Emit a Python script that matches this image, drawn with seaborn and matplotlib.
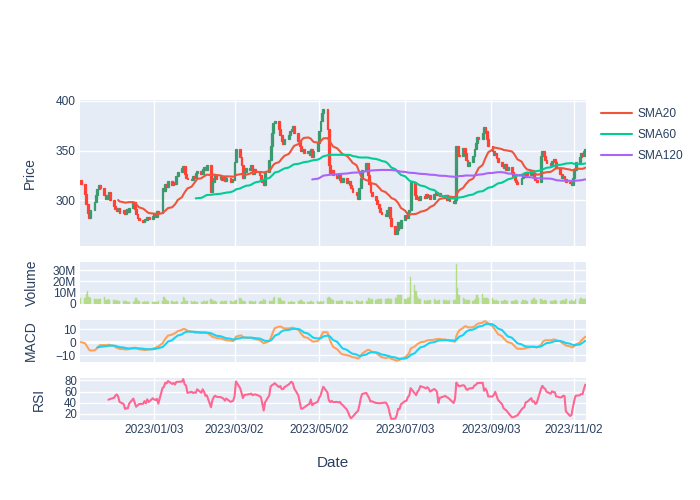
import numpy as np
import pandas as pd
import matplotlib
matplotlib.use("Agg")
import matplotlib.pyplot as plt
import seaborn as sns

# ------- Data -------
# daily closes, one row per week; first row is Fri 2022-11-11
first_open = 320
close_weeks = [
    [316],
    [306, 296, 287, 282, 290],
    [298, 305, 311, 315, 312],
    [305, 301, 304, 308, 300],
    [294, 291, 289, 292, 287],
    [290, 286, 291, 288, 292],
    [298, 291, 286, 282, 280],
    [278, 281, 280, 283, 281],
    [284, 287, 283, 289, 287],
    [312, 309, 316, 313, 319],
    [315, 318, 316, 324, 328],
    [332, 334, 326, 322, 321],
    [320, 324, 322, 327, 329],
    [326, 331, 333, 330, 335],
    [308, 318, 322, 325, 321],
    [324, 320, 323, 319, 322],
    [318, 321, 320, 338, 352],
    [343, 335, 322, 328, 332],
    [330, 335, 326, 331, 328],
    [325, 320, 318, 315, 328],
    [340, 355, 368, 378, 380],
    [372, 366, 360, 357, 362],
    [366, 370, 372, 375, 368],
    [360, 355, 350, 352, 348],
    [350, 346, 352, 343, 350],
    [358, 370, 380, 388, 392],
    [372, 335, 327, 330, 325],
    [322, 326, 320, 318, 322],
    [317, 319, 315, 312, 308],
    [305, 301, 312, 322, 330],
    [337, 325, 316, 308, 304],
    [300, 296, 292, 288, 286],
    [284, 290, 293, 282, 274],
    [266, 270, 278, 272, 280],
    [285, 282, 288, 290, 318],
    [305, 301, 303, 300, 304],
    [302, 306, 303, 305, 301],
    [306, 308, 305, 307, 304],
    [302, 305, 300, 303, 299],
    [297, 300, 355, 346, 344],
    [353, 348, 340, 334, 338],
    [345, 352, 358, 364, 362],
    [368, 374, 370, 362, 355],
    [350, 346, 348, 342, 338],
    [334, 332, 336, 330, 333],
    [328, 324, 320, 318, 316],
    [322, 326, 323, 328, 325],
    [330, 327, 322, 320, 318],
    [345, 350, 344, 340, 337],
    [335, 339, 341, 338, 332],
    [326, 322, 324, 321, 318],
    [317, 315, 322, 330, 338],
    [343, 348, 345, 350, 352],
]

# daily volume in millions, same layout
volume_weeks = [
    [4.8],
    [5.4, 8.6, 11.0, 6.0, 5.0],
    [4.5, 4.0, 3.8, 4.6, 3.9],
    [6.3, 3.2, 3.5, 4.0, 3.1],
    [3.0, 2.8, 3.3, 2.6, 2.4],
    [2.5, 2.6, 2.2, 1.8, 1.5],
    [1.4, 2.5, 5.4, 3.0, 2.2],
    [2.0, 2.4, 1.9, 2.1, 1.8],
    [1.7, 2.0, 1.8, 1.6, 2.2],
    [2.6, 5.7, 4.5, 3.0, 2.5],
    [2.2, 1.5, 2.0, 2.4, 1.8],
    [2.0, 5.7, 5.0, 2.6, 2.1],
    [2.4, 1.9, 2.2, 2.0, 1.7],
    [1.8, 2.0, 2.6, 1.9, 2.1],
    [4.2, 3.0, 2.4, 2.2, 1.9],
    [2.0, 2.3, 1.8, 2.1, 2.4],
    [2.2, 2.5, 1.9, 2.8, 3.2],
    [5.4, 4.0, 2.7, 2.2, 2.0],
    [2.3, 1.8, 2.1, 1.9, 2.2],
    [2.0, 2.4, 2.8, 4.2, 3.0],
    [2.5, 2.2, 2.6, 5.4, 6.0],
    [5.0, 5.6, 3.8, 2.6, 2.1],
    [2.0, 1.8, 2.2, 1.6, 1.9],
    [2.1, 2.5, 3.8, 2.2, 1.8],
    [1.6, 1.9, 2.1, 1.7, 2.0],
    [2.4, 1.8, 2.6, 2.0, 2.2],
    [5.0, 6.0, 5.6, 4.6, 3.2],
    [2.4, 2.8, 2.2, 3.0, 2.5],
    [2.1, 1.8, 2.3, 1.9, 2.0],
    [3.5, 2.2, 1.8, 2.0, 2.4],
    [2.2, 2.6, 5.0, 3.0, 4.2],
    [3.6, 4.4, 4.0, 4.6, 4.2],
    [4.5, 4.0, 4.8, 4.3, 4.6],
    [4.9, 5.2, 7.8, 8.2, 7.5],
    [4.0, 3.5, 5.0, 6.0, 24.0],
    [17.0, 11.0, 6.0, 4.5, 4.0],
    [3.2, 2.8, 3.5, 2.6, 3.0],
    [4.6, 3.8, 2.9, 3.4, 3.1],
    [3.5, 2.8, 3.3, 2.9, 3.2],
    [3.0, 3.4, 35.5, 14.0, 8.0],
    [5.0, 4.2, 3.3, 3.0, 3.1],
    [2.6, 3.0, 4.0, 7.5, 5.2],
    [8.7, 5.6, 5.0, 5.4, 4.6],
    [4.8, 3.6, 2.8, 3.2, 2.5],
    [2.7, 2.2, 3.0, 2.4, 2.9],
    [2.3, 2.6, 2.1, 3.0, 2.5],
    [2.0, 3.1, 2.7, 3.4, 2.6],
    [3.0, 3.6, 5.5, 3.8, 3.2],
    [4.2, 3.0, 2.6, 3.3, 2.4],
    [2.2, 2.8, 2.5, 3.1, 2.3],
    [2.6, 2.9, 3.3, 2.5, 4.5],
    [2.7, 3.2, 2.6, 2.4, 4.5],
    [3.6, 4.8, 4.2, 4.6, 3.9],
]

tick_dates = ["2023-01-03", "2023-03-02", "2023-05-02", "2023-07-03", "2023-09-03", "2023-11-02"]
tick_labels = ["2023/01/03", "2023/03/02", "2023/05/02", "2023/07/03", "2023/09/03", "2023/11/02"]
sma_windows = [20, 60, 120]
sma_colors = ["#EF553B", "#00CC96", "#AB63FA"]

# ------- Build frame + indicators -------
close = pd.Series([c for w in close_weeks for c in w], dtype=float)
volume = pd.Series([v for w in volume_weeks for v in w], dtype=float)
dates = pd.bdate_range("2022-11-11", periods=len(close))
df = pd.DataFrame({"Date": dates, "Close": close.values, "Volume": volume.values})
df["Open"] = df["Close"].shift(1).fillna(first_open)
for n in sma_windows:
    df[f"SMA{n}"] = df["Close"].rolling(n).mean()

ema12 = df["Close"].ewm(span=12, adjust=False).mean()
ema26 = df["Close"].ewm(span=26, adjust=False).mean()
df["MACD"] = ema12 - ema26
df["Signal"] = df["MACD"].ewm(span=9, adjust=False, min_periods=9).mean()

# RSI(14), simple rolling averages
delta = df["Close"].diff()
gain = delta.clip(lower=0).rolling(14).mean()
loss = (-delta.clip(upper=0)).rolling(14).mean()
df["RSI"] = 100 - 100 / (1 + gain / loss)

# ------- Style -------
TXT = "#2a3f5f"
sns.set_theme(style="darkgrid", rc={
    "axes.facecolor": "#E5ECF6", "grid.color": "white", "grid.linewidth": 1.0,
    "axes.edgecolor": "#E5ECF6", "xtick.color": TXT, "ytick.color": TXT,
    "axes.labelcolor": TXT, "text.color": TXT,
})
plt.rcParams["font.family"] = ["Liberation Sans", "DejaVu Sans"]

fig = plt.figure(figsize=(7, 5), dpi=100)
L, W = 80 / 700, 506 / 700
def rect(top, bottom):
    return [L, 1 - bottom / 500, W, (bottom - top) / 500]

ax_p = fig.add_axes(rect(100, 245.7))
ax_v = fig.add_axes(rect(261.7, 303.8), sharex=ax_p)
ax_m = fig.add_axes(rect(320, 362), sharex=ax_p)
ax_r = fig.add_axes(rect(378, 420), sharex=ax_p)

# candles
up = df["Close"] >= df["Open"]
cols = np.where(up, "#3D9970", "#FF4136")
ax_p.bar(df["Date"], df["Close"] - df["Open"], bottom=df["Open"], width=1.3,
         color=cols, edgecolor=cols, linewidth=0.9, zorder=2)
for n, c in zip(sma_windows, sma_colors):
    sns.lineplot(x=df["Date"], y=df[f"SMA{n}"], ax=ax_p, color=c, lw=1.5,
                 label=f"SMA{n}", zorder=3)
ax_p.set_ylim(254, 401)
ax_p.set_yticks([300, 350, 400])
ax_p.set_ylabel("Price", labelpad=14)
handles, labels = ax_p.get_legend_handles_labels()
ax_p.get_legend().remove()
fig.legend(handles, labels, loc="upper left", bbox_to_anchor=(0.843, 0.805),
           frameon=False, fontsize=8.6, handlelength=2.6, labelspacing=0.75,
           handletextpad=0.5, labelcolor=TXT)

# volume
ax_v.bar(df["Date"], df["Volume"], width=1.0, color="#b4dc88",
         edgecolor="#b4dc88", linewidth=0.3, zorder=2)
ax_v.set_ylim(0, df["Volume"].max() * 1.06)
ax_v.set_yticks([0, 10, 20, 30])
ax_v.set_yticklabels(["0", "10M", "20M", "30M"])
ax_v.set_ylabel("Volume", labelpad=10)

# MACD
ax_m.axhline(0, color="white", lw=2, zorder=1)
sns.lineplot(x=df["Date"], y=df["MACD"], ax=ax_m, color="#FFA15A", lw=1.5, zorder=3)
sns.lineplot(x=df["Date"], y=df["Signal"], ax=ax_m, color="#19D3F3", lw=1.5, zorder=3)
lo = min(df["MACD"].min(), df["Signal"].min())
hi = max(df["MACD"].max(), df["Signal"].max())
ax_m.set_ylim(lo - 1, hi + 1)
ax_m.set_yticks([-10, 0, 10])
ax_m.set_ylabel("MACD", labelpad=13)

# RSI
sns.lineplot(x=df["Date"], y=df["RSI"], ax=ax_r, color="#FF6692", lw=1.5, zorder=3)
ax_r.set_ylim(df["RSI"].min() - 2, df["RSI"].max() + 2)
ax_r.set_yticks([20, 40, 60, 80])
ax_r.set_ylabel("RSI", labelpad=13)
ax_r.set_xlabel("Date", fontsize=11, labelpad=14)

ticks = pd.to_datetime(tick_dates)
ax_r.set_xlim(df["Date"].iloc[0] - pd.Timedelta(hours=12), df["Date"].iloc[-1] + pd.Timedelta(hours=12))
for ax in (ax_p, ax_v, ax_m, ax_r):
    ax.set_xticks(ticks)
    ax.tick_params(length=0, labelsize=8.6, pad=3)
    ax.yaxis.label.set_size(10)
    for s in ax.spines.values():
        s.set_visible(False)
    if ax is not ax_r:
        ax.tick_params(labelbottom=False)
        ax.set_xlabel("")
ax_r.set_xticklabels(tick_labels)
ax_r.tick_params(axis="y", labelsize=8.3, pad=2)

fig.savefig("out.png", dpi=100)
